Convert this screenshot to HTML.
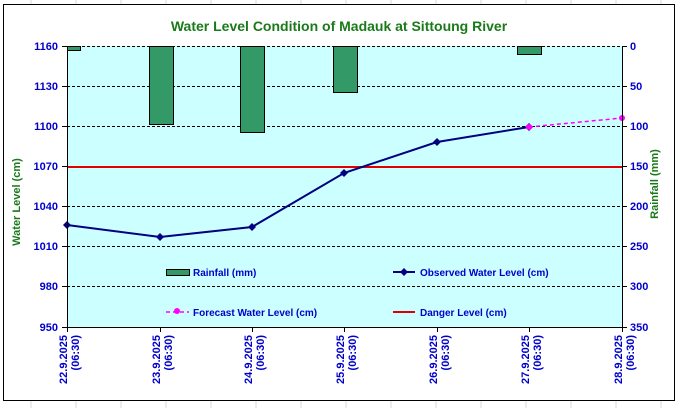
<!DOCTYPE html>
<html><head><meta charset="utf-8"><style>body{margin:0;background:#fff}</style></head><body>
<svg width="678" height="408" xmlns="http://www.w3.org/2000/svg" font-family="Liberation Sans, Arial, sans-serif" font-weight="bold">
<g stroke="#d8d8d8" stroke-width="1">
<line x1="31" y1="0" x2="31" y2="408"/><line x1="76" y1="0" x2="76" y2="408"/><line x1="121" y1="0" x2="121" y2="408"/><line x1="166" y1="0" x2="166" y2="408"/><line x1="211" y1="0" x2="211" y2="408"/><line x1="256" y1="0" x2="256" y2="408"/><line x1="301" y1="0" x2="301" y2="408"/><line x1="346" y1="0" x2="346" y2="408"/><line x1="391" y1="0" x2="391" y2="408"/><line x1="436" y1="0" x2="436" y2="408"/><line x1="481" y1="0" x2="481" y2="408"/><line x1="526" y1="0" x2="526" y2="408"/><line x1="571" y1="0" x2="571" y2="408"/><line x1="616" y1="0" x2="616" y2="408"/><line x1="661" y1="0" x2="661" y2="408"/>
</g>
<rect x="3.5" y="4.5" width="671" height="396" fill="#fff" stroke="#000" stroke-width="1"/>
<text x="339" y="31" text-anchor="middle" font-size="14" fill="#1a7a1a">Water Level Condition of Madauk at Sittoung River</text>
<rect x="67" y="46" width="555" height="281" fill="#ccffff"/>
<g stroke="#000" stroke-dasharray="3,2" stroke-width="1">
<line x1="67" y1="46.5" x2="622" y2="46.5"/><line x1="67" y1="86.5" x2="622" y2="86.5"/><line x1="67" y1="126.5" x2="622" y2="126.5"/><line x1="67" y1="166.5" x2="622" y2="166.5"/><line x1="67" y1="206.5" x2="622" y2="206.5"/><line x1="67" y1="246.5" x2="622" y2="246.5"/><line x1="67" y1="286.5" x2="622" y2="286.5"/>
</g>
<g fill="#339966" stroke="#000" stroke-width="1">
<rect x="67.5" y="46.5" width="13" height="4"/>
<rect x="149.5" y="46.5" width="24" height="78"/>
<rect x="240.5" y="46.5" width="24" height="86"/>
<rect x="333.5" y="46.5" width="24" height="46"/>
<rect x="517.5" y="46.5" width="24" height="8"/>
</g>
<line x1="67" y1="167" x2="622" y2="167" stroke="#e00000" stroke-width="2"/>
<polyline points="67,225 160,237 252,227 344,173 437,142 529,127" fill="none" stroke="#000080" stroke-width="2"/>
<g fill="#000080"><path d="M67,221l4,4l-4,4l-4,-4z"/><path d="M160,233l4,4l-4,4l-4,-4z"/><path d="M252,223l4,4l-4,4l-4,-4z"/><path d="M344,169l4,4l-4,4l-4,-4z"/><path d="M437,138l4,4l-4,4l-4,-4z"/><path d="M529,123l4,4l-4,4l-4,-4z"/></g>
<line x1="529" y1="127" x2="622" y2="118" stroke="#ff00ff" stroke-width="1.5" stroke-dasharray="4,3"/>
<circle cx="529" cy="127" r="3" fill="#ff00ff"/><circle cx="622" cy="118" r="3" fill="#ff00ff"/>
<path d="M67.5,46V327.5H622.5V46" fill="none" stroke="#000" stroke-width="1"/>
<g stroke="#000"><line x1="62" y1="46.5" x2="67" y2="46.5"/><line x1="62" y1="86.5" x2="67" y2="86.5"/><line x1="62" y1="126.5" x2="67" y2="126.5"/><line x1="62" y1="166.5" x2="67" y2="166.5"/><line x1="62" y1="206.5" x2="67" y2="206.5"/><line x1="62" y1="246.5" x2="67" y2="246.5"/><line x1="62" y1="286.5" x2="67" y2="286.5"/><line x1="62" y1="327.5" x2="67" y2="327.5"/>
<line x1="622" y1="46.5" x2="627" y2="46.5"/><line x1="622" y1="86.5" x2="627" y2="86.5"/><line x1="622" y1="126.5" x2="627" y2="126.5"/><line x1="622" y1="166.5" x2="627" y2="166.5"/><line x1="622" y1="206.5" x2="627" y2="206.5"/><line x1="622" y1="246.5" x2="627" y2="246.5"/><line x1="622" y1="286.5" x2="627" y2="286.5"/><line x1="622" y1="327.5" x2="627" y2="327.5"/>
<line x1="67.5" y1="327" x2="67.5" y2="332"/><line x1="160.5" y1="327" x2="160.5" y2="332"/><line x1="252.5" y1="327" x2="252.5" y2="332"/><line x1="344.5" y1="327" x2="344.5" y2="332"/><line x1="437.5" y1="327" x2="437.5" y2="332"/><line x1="529.5" y1="327" x2="529.5" y2="332"/><line x1="622.5" y1="327" x2="622.5" y2="332"/></g>
<g font-size="11" fill="#0000cc" text-anchor="end">
<text x="58" y="50">1160</text><text x="58" y="90">1130</text><text x="58" y="130">1100</text><text x="58" y="170">1070</text><text x="58" y="210">1040</text><text x="58" y="250">1010</text><text x="58" y="290">980</text><text x="58" y="331">950</text></g>
<g font-size="11" fill="#0000cc" text-anchor="start">
<text x="630" y="50">0</text><text x="630" y="90">50</text><text x="630" y="130">100</text><text x="630" y="170">150</text><text x="630" y="210">200</text><text x="630" y="250">250</text><text x="630" y="290">300</text><text x="630" y="331">350</text></g>
<text transform="translate(20,202) rotate(-90)" text-anchor="middle" font-size="11" fill="#1a7a1a">Water Level (cm)</text>
<text transform="translate(658,184) rotate(-90)" text-anchor="middle" font-size="11" fill="#1a7a1a">Rainfall (mm)</text>
<g font-size="11" fill="#0000cc" text-anchor="end">
<text transform="translate(67,335) rotate(-90)"><tspan x="0" dy="0">22.9.2025</tspan><tspan x="0" dy="12">(06:30)</tspan></text>
<text transform="translate(160,335) rotate(-90)"><tspan x="0" dy="0">23.9.2025</tspan><tspan x="0" dy="12">(06:30)</tspan></text>
<text transform="translate(252,335) rotate(-90)"><tspan x="0" dy="0">24.9.2025</tspan><tspan x="0" dy="12">(06:30)</tspan></text>
<text transform="translate(344,335) rotate(-90)"><tspan x="0" dy="0">25.9.2025</tspan><tspan x="0" dy="12">(06:30)</tspan></text>
<text transform="translate(437,335) rotate(-90)"><tspan x="0" dy="0">26.9.2025</tspan><tspan x="0" dy="12">(06:30)</tspan></text>
<text transform="translate(529,335) rotate(-90)"><tspan x="0" dy="0">27.9.2025</tspan><tspan x="0" dy="12">(06:30)</tspan></text>
<text transform="translate(622,335) rotate(-90)"><tspan x="0" dy="0">28.9.2025</tspan><tspan x="0" dy="12">(06:30)</tspan></text>
</g>
<rect x="166.5" y="269.5" width="23" height="6" fill="#339966" stroke="#000"/>
<line x1="393" y1="272" x2="415" y2="272" stroke="#000080" stroke-width="2"/><path d="M404,268l4,4l-4,4l-4,-4z" fill="#000080"/>
<line x1="166" y1="312" x2="189" y2="312" stroke="#ff00ff" stroke-width="1.5" stroke-dasharray="4,3"/><circle cx="177" cy="311" r="3" fill="#ff00ff"/>
<line x1="393" y1="312" x2="415" y2="312" stroke="#e00000" stroke-width="2"/>
<g font-size="10" fill="#0000cc"><text x="193" y="276">Rainfall (mm)</text><text x="420" y="276">Observed Water Level (cm)</text><text x="193" y="316">Forecast Water Level (cm)</text><text x="420" y="316">Danger Level (cm)</text></g>
</svg>
</body></html>
